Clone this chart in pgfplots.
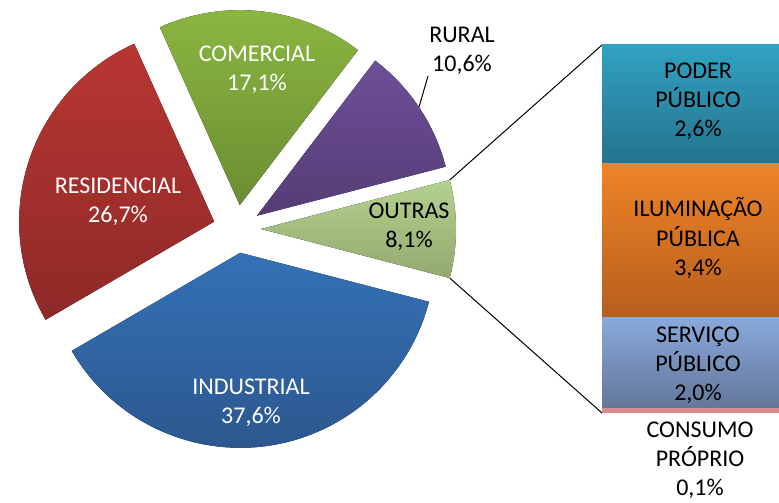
\documentclass[border=0pt]{standalone}
\usepackage{fontspec}
\setmainfont{Carlito}
\usepackage{pgfplots}
\pgfplotsset{compat=1.18}
\usepackage{pgfplotstable}

% Excel style colours (top / bottom of the gradient)
\definecolor{resT}{HTML}{B83633}\definecolor{resB}{HTML}{8E2927}
\definecolor{comT}{HTML}{8DB842}\definecolor{comB}{HTML}{6A8E32}
\definecolor{rurT}{HTML}{6E4F99}\definecolor{rurB}{HTML}{553C75}
\definecolor{outT}{HTML}{B4D190}\definecolor{outB}{HTML}{93A96E}
\definecolor{indT}{HTML}{3471B6}\definecolor{indB}{HTML}{2B5489}
\definecolor{podT}{HTML}{31A2C2}\definecolor{podB}{HTML}{24738E}
\definecolor{iluT}{HTML}{EF8427}\definecolor{iluB}{HTML}{B65E1D}
\definecolor{serT}{HTML}{89A9DB}\definecolor{serB}{HTML}{637699}
\definecolor{conC}{HTML}{D98A8B}

% pie: start (cumulative %), value (%), colours; 1 px = 0.5pt, r = 195 px, explode = 24 px
\newcommand\pieslice[4]{%
  \fill[top color=#3, bottom color=#4]
    (axis cs:{237+24*cos((#1+#2/2)*3.5964-14.566)},{273+24*sin((#1+#2/2)*3.5964-14.566)})
    -- ++({(#1)*3.5964-14.566}:97.5pt)
    arc[start angle={(#1)*3.5964-14.566}, end angle={(#1+#2)*3.5964-14.566}, radius=97.5pt]
    -- cycle;}

\tikzset{lbl/.style={align=center, font=\fontsize{12}{14.6}\selectfont}}

\begin{document}
\begin{tikzpicture}
\begin{axis}[
  scale only axis, width=389.5pt, height=251pt,
  xmin=0, xmax=779, ymin=0, ymax=502,
  hide axis, clip=false]
\pieslice{0}{8.1}{outT}{outB}
\pieslice{8.1}{10.6}{rurT}{rurB}
\pieslice{18.7}{17.1}{comT}{comB}
\pieslice{35.8}{26.7}{resT}{resB}
\pieslice{62.5}{37.6}{indT}{indB}
\draw[line width=0.5pt] (axis cs:261,273) ++(14.566:97.5pt) -- (axis cs:602,457);
\draw[line width=0.5pt] (axis cs:261,273) ++(-14.566:97.5pt) -- (axis cs:602,89);
\draw[line width=0.5pt] (axis cs:428,426) -- (axis cs:419,395);
\node[lbl, text=white] at (axis cs:257,432) {COMERCIAL\\17,1\%};
\node[lbl, text=white] at (axis cs:118,300) {RESIDENCIAL\\26,7\%};
\node[lbl, text=white] at (axis cs:251,99) {INDUSTRIAL\\37,6\%};
\node[lbl] at (axis cs:409,275) {OUTRAS\\8,1\%};
\node[lbl] at (axis cs:462,451) {RURAL\\10,6\%};
\end{axis}
\begin{axis}[
  at={(301pt,44.5pt)}, anchor=south west,
  scale only axis, width=96pt, height=184pt,
  xmin=-0.5, xmax=0.5, ymin=0, ymax=8.1,
  ybar stacked, bar width=96pt, hide axis, clip=false]
\addplot[draw=none, fill=conC] coordinates {(0,0.1)};
\addplot[draw=none, top color=serT, bottom color=serB] coordinates {(0,2.0)};
\addplot[draw=none, top color=iluT, bottom color=iluB] coordinates {(0,3.4)};
\addplot[draw=none, top color=podT, bottom color=podB] coordinates {(0,2.6)};
\end{axis}
\begin{axis}[
  scale only axis, width=389.5pt, height=251pt,
  xmin=0, xmax=779, ymin=0, ymax=502,
  hide axis, clip=false]
\node[lbl] at (axis cs:698,401) {PODER\\PÚBLICO\\2,6\%};
\node[lbl] at (axis cs:698,264) {ILUMINAÇÃO\\PÚBLICA\\3,4\%};
\node[lbl] at (axis cs:698,137) {SERVIÇO\\PÚBLICO\\2,0\%};
\node[lbl] at (axis cs:700,42) {CONSUMO\\PRÓPRIO\\0,1\%};
\end{axis}
\pgfresetboundingbox
\useasboundingbox (0,0) rectangle (389.5pt,251pt);
\end{tikzpicture}
\end{document}
